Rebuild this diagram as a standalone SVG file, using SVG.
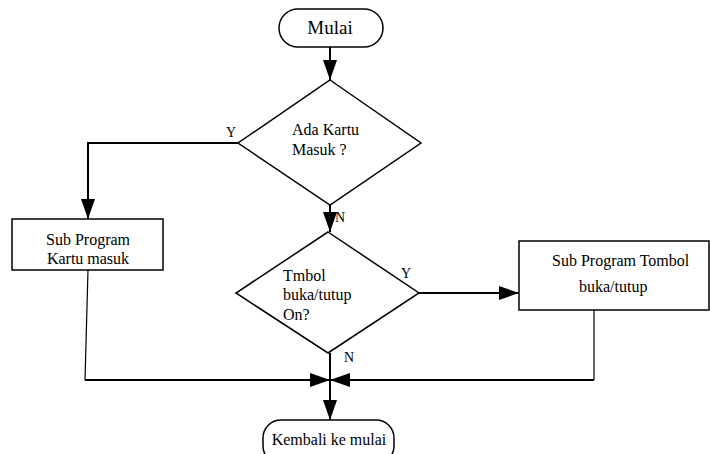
<svg xmlns="http://www.w3.org/2000/svg" width="710" height="454" viewBox="0 0 710 454">
<defs>
<marker id="ahv" markerWidth="20" markerHeight="14" refX="20" refY="7" orient="auto" markerUnits="userSpaceOnUse" viewBox="0 0 20 14">
<path d="M0,0 L20,7 L0,14 Z" fill="#000"/>
</marker>
</defs>
<style>
text{font-family:'Liberation Serif','DejaVu Serif','Times New Roman',serif;font-size:16px;fill:#000}
.shape{fill:#fff;stroke:#000;stroke-width:1.5}
.c{fill:none;stroke:#000;stroke-width:2}
.thin{fill:none;stroke:#000;stroke-width:1.2}
.lbl{font-size:14px}
</style>
<rect width="710" height="454" fill="#fff"/>
<g id="connectors">
<line class="c" x1="330" y1="47" x2="330" y2="80" marker-end="url(#ahv)"/>
<polyline class="c" points="238,143 88,143 88,219" marker-end="url(#ahv)"/>
<line class="c" x1="330" y1="205" x2="330" y2="232" marker-end="url(#ahv)"/>
<line class="c" x1="419" y1="293" x2="519" y2="293" marker-end="url(#ahv)"/>
<polyline class="thin" points="88,270 85,380"/>
<line class="c" x1="85" y1="380" x2="330" y2="380" marker-end="url(#ahv)"/>
<polyline class="thin" points="594,310 594,380"/>
<line class="c" x1="594" y1="380" x2="330" y2="380" marker-end="url(#ahv)"/>
<line class="c" x1="330" y1="353" x2="330" y2="420" marker-end="url(#ahv)"/>
<text class="lbl" x="226" y="137">Y</text>
<text class="lbl" x="335" y="222">N</text>
<text class="lbl" x="401" y="278">Y</text>
<text class="lbl" x="344" y="362">N</text>
</g>
<g id="mulai">
<rect class="shape" x="279" y="9" width="104" height="38" rx="19"/>
<text x="330" y="34" text-anchor="middle" style="font-size:19px">Mulai</text>
</g>
<g id="cek-kartu">
<polygon class="shape" points="330,80 421,143 330,205 238,143"/>
<text x="292" y="135">Ada Kartu</text>
<text x="292" y="155">Masuk ?</text>
</g>
<g id="sub-kartu">
<rect class="shape" x="12" y="219" width="151" height="51"/>
<text x="88" y="245" text-anchor="middle">Sub Program</text>
<text x="88" y="264" text-anchor="middle">Kartu masuk</text>
</g>
<g id="cek-tombol">
<polygon class="shape" points="328,232 419,293 328,353 236,293"/>
<text x="283" y="281">Tmbol</text>
<text x="283" y="300">buka/tutup</text>
<text x="283" y="320">On?</text>
</g>
<g id="sub-tombol">
<rect class="shape" x="519" y="241" width="190" height="69"/>
<text x="552" y="266">Sub Program Tombol</text>
<text x="579" y="292">buka/tutup</text>
</g>
<g id="kembali">
<rect class="shape" x="263" y="420" width="131" height="44" rx="18"/>
<text x="329" y="445" text-anchor="middle">Kembali ke mulai</text>
</g>
</svg>
